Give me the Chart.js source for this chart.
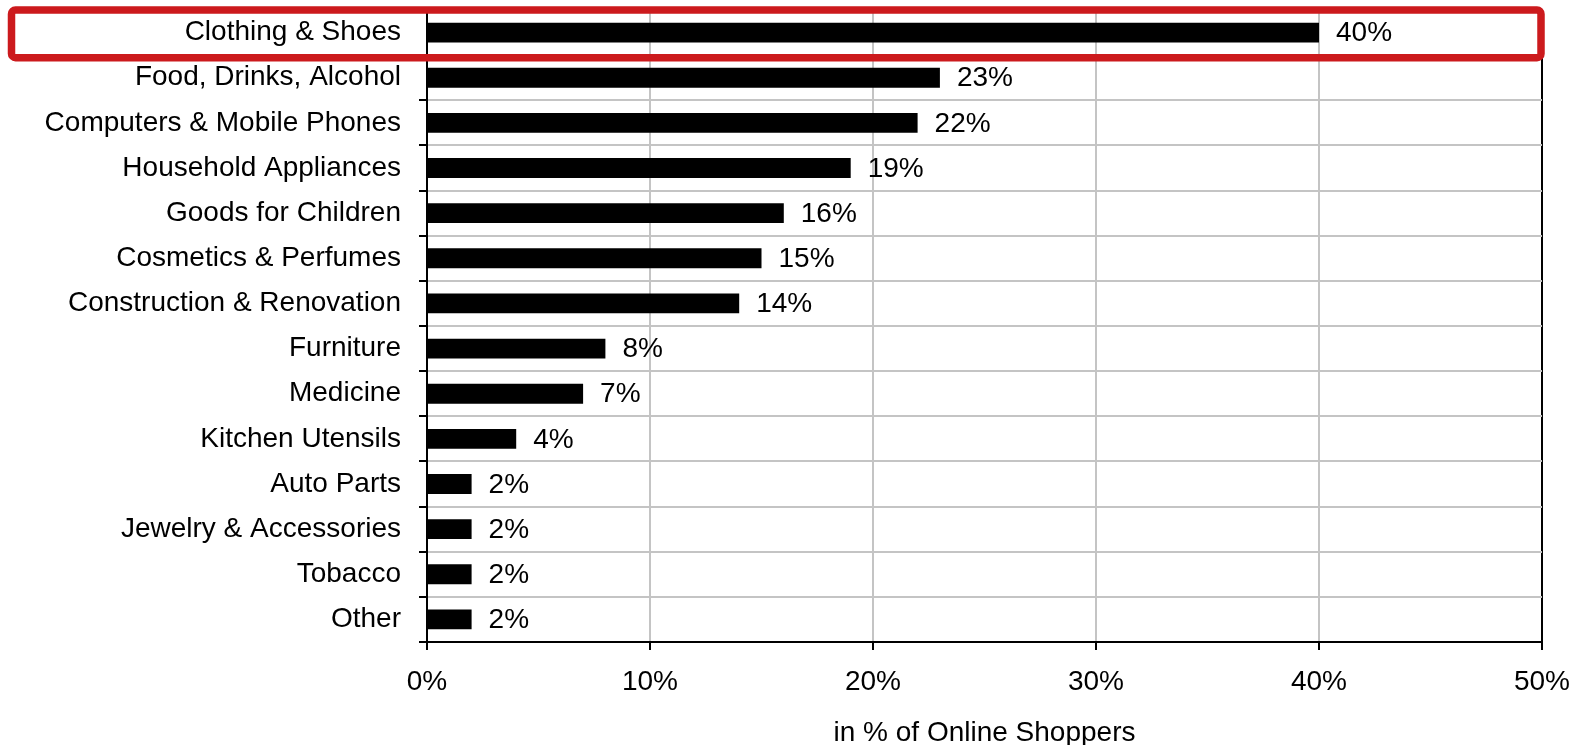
<!DOCTYPE html>
<html>
<head>
<meta charset="utf-8">
<script src="https://cdn.jsdelivr.net/npm/chart.js@4/dist/chart.umd.min.js"></script>
<style>
  html, body { margin: 0; padding: 0; background: #fff; }
  #wrap { width: 1577px; height: 745px; }
</style>
</head>
<body>
<div id="wrap"><canvas id="chart_bar_categorias"></canvas></div>
<script>
// Dados
const categorias = ['Clothing & Shoes', 'Food, Drinks, Alcohol', 'Computers & Mobile Phones',
  'Household Appliances', 'Goods for Children', 'Cosmetics & Perfumes', 'Construction & Renovation',
  'Furniture', 'Medicine', 'Kitchen Utensils', 'Auto Parts', 'Jewelry & Accessories', 'Tobacco', 'Other'];
const percentuais = [40, 23, 22, 19, 16, 15, 14, 8, 7, 4, 2, 2, 2, 2];
const ticksX = [0, 10, 20, 30, 40, 50];
const destaque = 'Clothing & Shoes';

const fonte = 'Liberation Sans, Arial, sans-serif';
const cinza = '#c4c4c4';

Chart.defaults.font.family = fonte;
Chart.defaults.color = '#000';

// rótulos de valor à direita das barras
const rotulosPlugin = {
  id: 'rotulos',
  afterDatasetsDraw(chart) {
    const c = chart.ctx;
    const meta = chart.getDatasetMeta(0);
    c.save();
    c.font = '28px ' + fonte;
    c.fillStyle = '#000';
    c.textAlign = 'left';
    c.textBaseline = 'middle';
    meta.data.forEach((bar, i) => {
      c.fillText(percentuais[i] + '%', bar.x + 17, bar.y + 1);
    });
    c.restore();
  }
};

// caixa vermelha em volta da categoria em destaque
const destaquePlugin = {
  id: 'destaque',
  afterDraw(chart) {
    const y = chart.scales.y;
    const idx = categorias.indexOf(destaque);
    const yc = y.getPixelForValue(idx);
    const meia = (y.getPixelForValue(1) - y.getPixelForValue(0)) / 2;
    const x0 = 11.5, x1 = chart.chartArea.right - 1;
    const y0 = yc - meia, y1 = yc + meia + 2.5;
    const c = chart.ctx;
    c.save();
    c.strokeStyle = '#cc1a1d';
    c.lineWidth = 7.5;
    c.beginPath();
    c.roundRect(x0, y0, x1 - x0, y1 - y0, 4);
    c.stroke();
    c.restore();
  }
};

new Chart(document.getElementById('chart_bar_categorias'), {
  type: 'bar',
  data: {
    labels: categorias,
    datasets: [{
      data: percentuais,
      backgroundColor: '#000',
      borderWidth: 0,
      categoryPercentage: 1,
      barPercentage: 0.44
    }]
  },
  options: {
    indexAxis: 'y',
    responsive: true,
    maintainAspectRatio: false,
    animation: false,
    layout: {
      padding: { top: 10, right: 35, left: 0, bottom: 0 }
    },
    scales: {
      x: {
        min: 0,
        max: 50,
        afterBuildTicks(scale) {
          scale.ticks = ticksX.map(v => ({ value: v }));
        },
        afterFit(scale) {
          scale.height = 103;
          scale.paddingLeft = 0;
          scale.paddingRight = 0;
        },
        border: { display: true, color: '#000', width: 2 },
        grid: {
          color: (ctx) => (ctx.tick && ctx.tick.value === 50) ? '#000' : cinza,
          lineWidth: 2,
          tickColor: '#000',
          tickLength: 8,
          drawTicks: true
        },
        ticks: {
          padding: 15,
          font: { size: 28 },
          color: '#000',
          callback: (v) => v + '%'
        },
        title: {
          display: true,
          text: 'in % of Online Shoppers',
          font: { size: 28, lineHeight: 1 },
          color: '#000',
          padding: { top: 0, bottom: -2 }
        }
      },
      y: {
        afterFit(scale) {
          scale.width = 427;
          scale.paddingTop = 0;
          scale.paddingBottom = 0;
        },
        border: { display: true, color: '#000', width: 2 },
        grid: {
          color: cinza,
          lineWidth: 2,
          tickColor: '#000',
          tickLength: 8,
          offset: true
        },
        ticks: {
          padding: 18,
          font: { size: 28 },
          color: '#000',
          autoSkip: false
        }
      }
    },
    plugins: {
      legend: { display: false },
      title: { display: false },
      tooltip: { enabled: false }
    }
  },
  plugins: [rotulosPlugin, destaquePlugin]
});
</script>
</body>
</html>
